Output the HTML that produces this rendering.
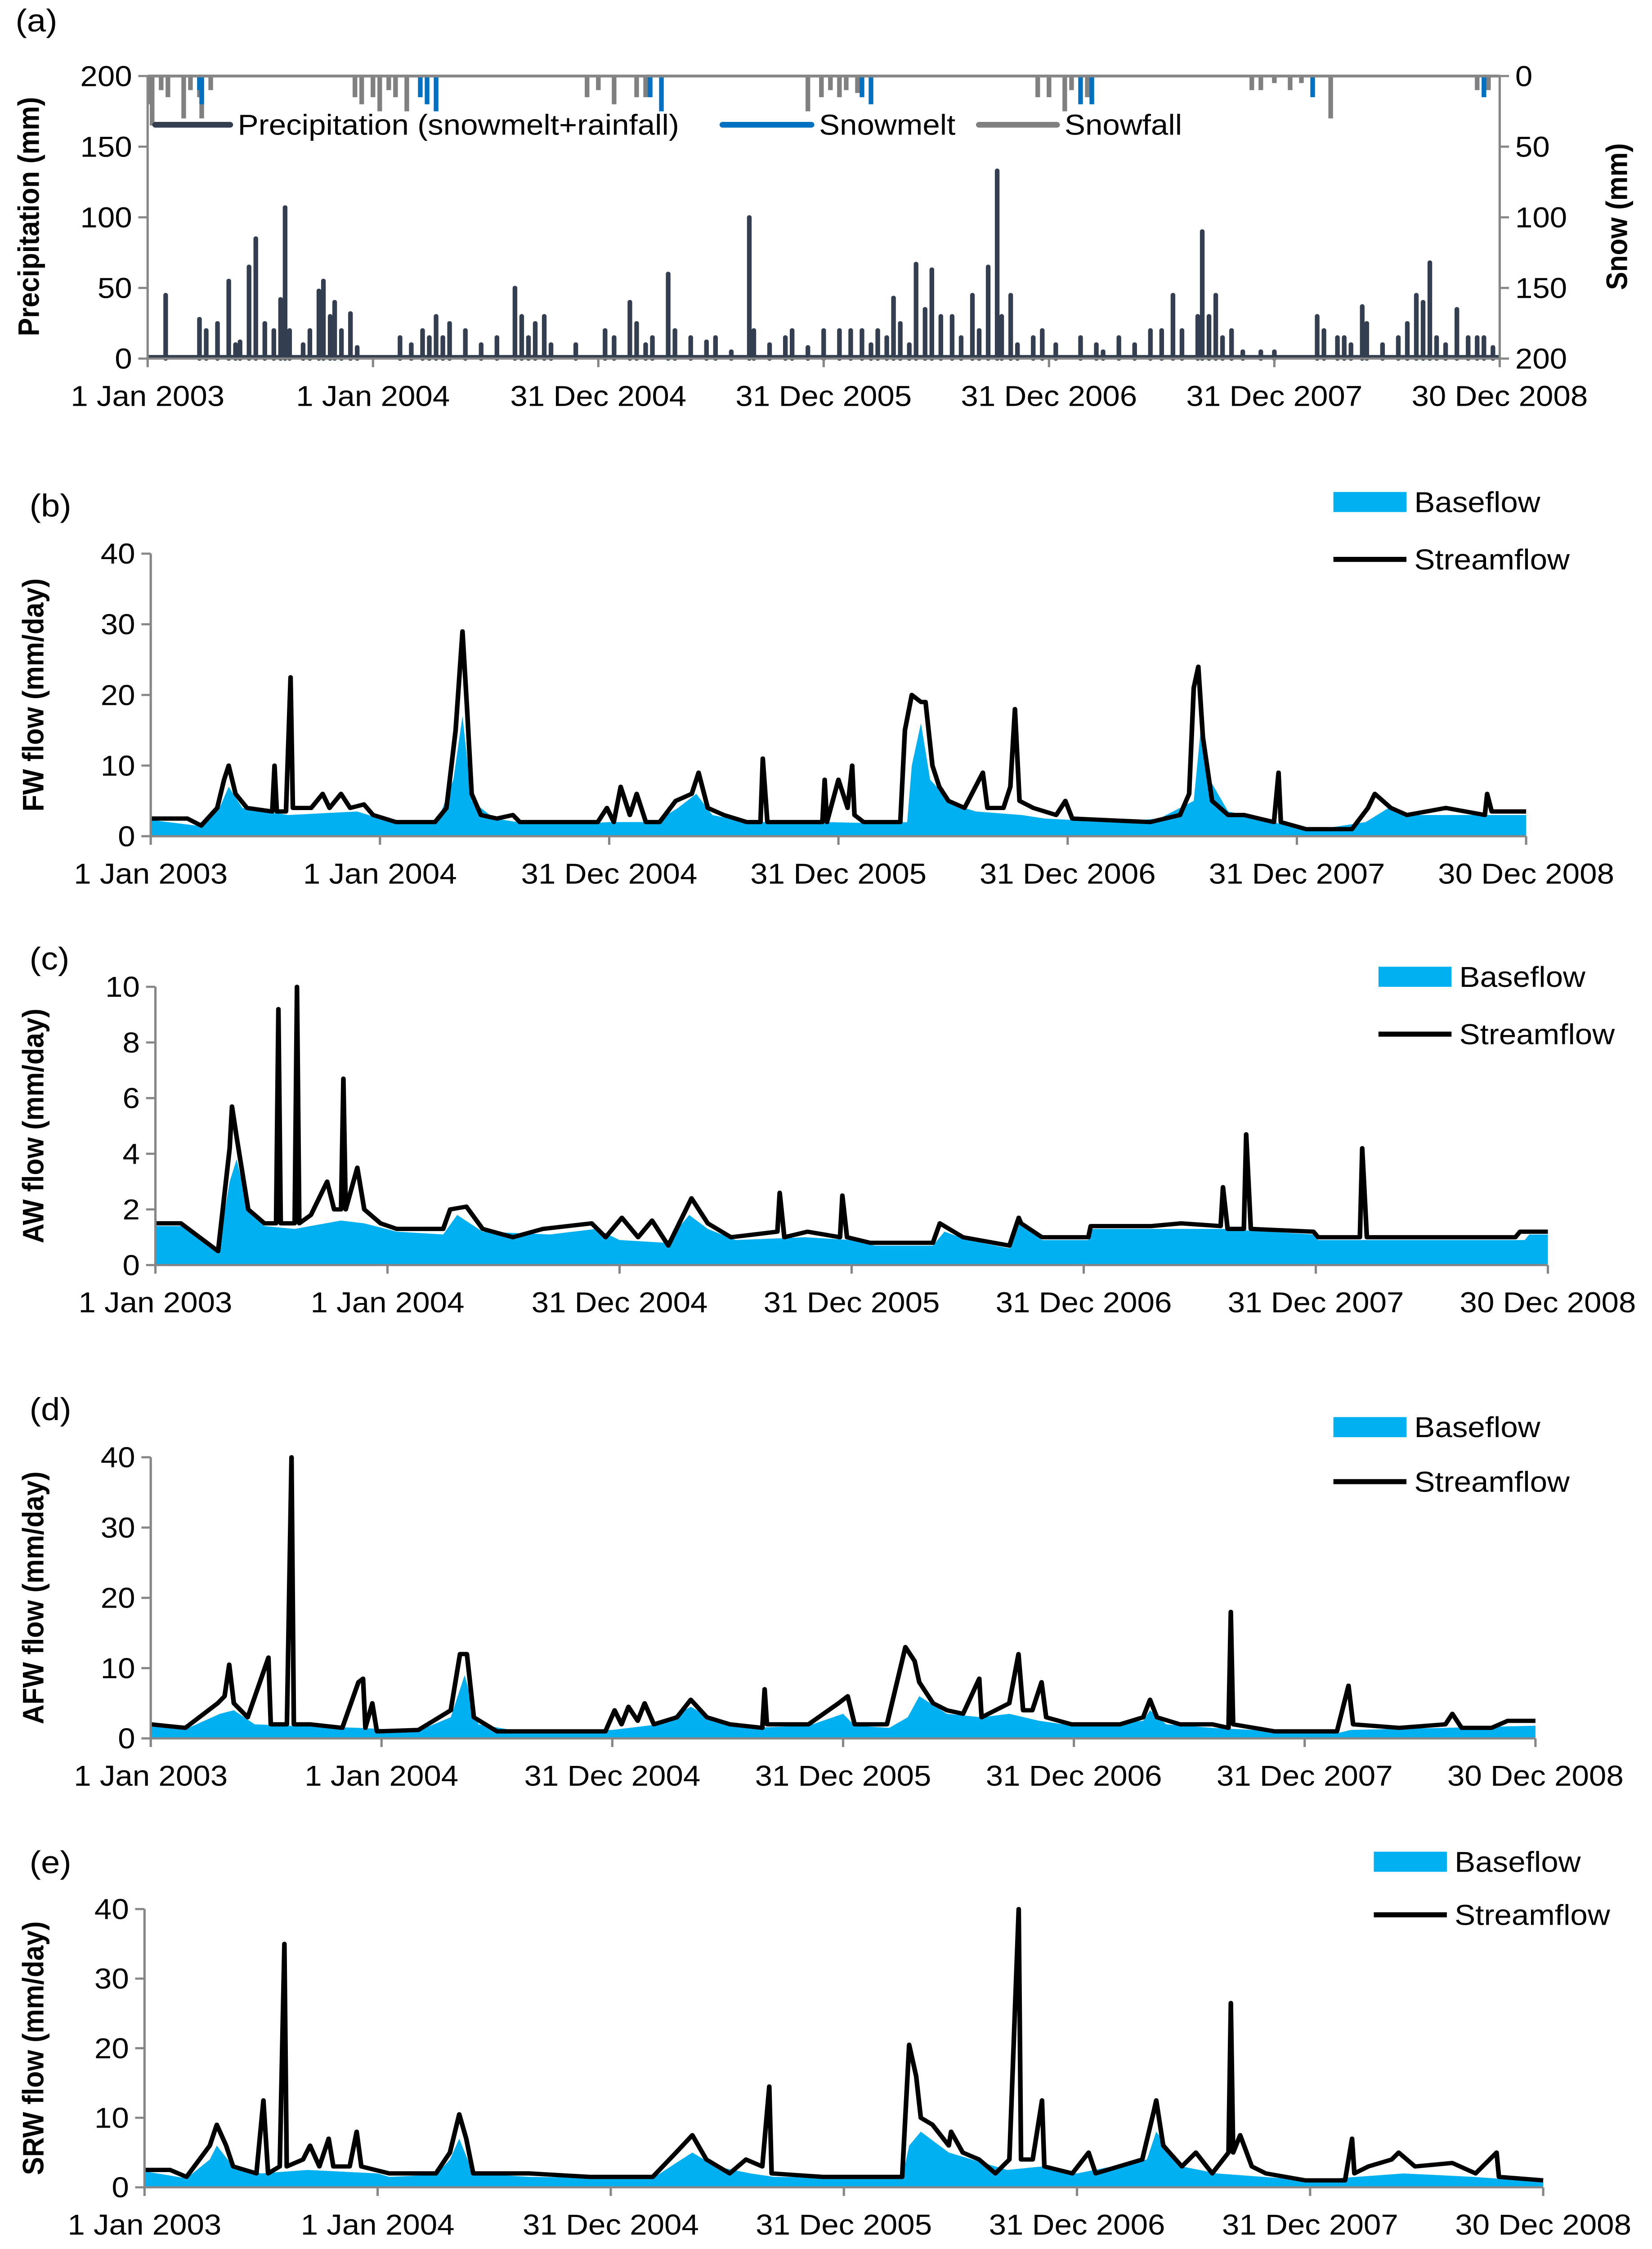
<!DOCTYPE html>
<html><head><meta charset="utf-8">
<style>
html,body{margin:0;padding:0;background:#fff;width:100%;height:100%;overflow:hidden;}
svg{display:block;position:fixed;left:0;top:0;width:100vw;height:100vh;}
text{font-family:"Liberation Sans",Arial,sans-serif;fill:#000;}
</style></head>
<body>
<svg id="fig" viewBox="0 0 1063 1568" preserveAspectRatio="none" xmlns="http://www.w3.org/2000/svg"></svg>
<script>
// ---------- Data (time in years since 1 Jan 2003) ----------
const dateLabels = ["1 Jan 2003","1 Jan 2004","31 Dec 2004","31 Dec 2005","31 Dec 2006","31 Dec 2007","30 Dec 2008"];

// Panel (a) precipitation
const precipT = [.08,.23,.26,.31,.36,.39,.41,.45,.48,.52,.56,.59,.61,.63,.69,.72,.76,.78,.81,.83,.86,.90,.93,1.12,1.17,1.22,1.25,1.28,1.31,1.34,1.41,1.48,1.55,1.63,1.66,1.69,1.72,1.76,1.79,1.90,2.03,2.07,2.14,2.17,2.21,2.24,2.31,2.34,2.41,2.48,2.52,2.59,2.67,2.69,2.76,2.83,2.86,2.93,3.00,3.07,3.12,3.17,3.21,3.24,3.28,3.31,3.34,3.38,3.41,3.45,3.48,3.52,3.57,3.61,3.66,3.69,3.73,3.77,3.79,3.83,3.86,3.93,3.97,4.03,4.14,4.21,4.24,4.31,4.38,4.45,4.50,4.55,4.59,4.66,4.68,4.71,4.74,4.77,4.81,4.86,4.94,5.00,5.19,5.22,5.28,5.31,5.34,5.39,5.41,5.48,5.55,5.59,5.63,5.66,5.69,5.72,5.76,5.81,5.86,5.90,5.93,5.97];
const precipMM = [45,28,20,25,55,10,12,65,85,25,20,42,107,20,10,20,48,55,30,40,20,32,8,15,10,20,15,30,15,25,20,10,15,50,30,15,25,30,10,10,20,15,40,25,10,15,60,20,15,12,15,5,100,20,10,15,20,8,20,20,20,20,10,20,15,43,25,10,67,35,63,30,30,15,45,20,65,133,30,45,10,15,20,10,15,10,5,15,10,20,20,45,20,30,90,30,45,15,20,5,5,5,30,20,15,15,10,37,25,10,15,25,45,40,68,15,10,35,15,15,15,8];
const snowfallT = [.01,.02,.06,.09,.16,.19,.23,.24,.28,.92,.95,1.0,1.03,1.07,1.10,1.15,1.95,2.0,2.07,2.17,2.21,2.93,2.99,3.03,3.07,3.10,3.15,3.95,4.0,4.07,4.10,4.17,4.90,4.94,5.0,5.07,5.12,5.25,5.90,5.95];
const snowfallMM = [20,35,10,15,30,10,15,30,10,15,20,15,25,10,15,25,15,10,20,15,15,25,15,10,15,10,12,15,15,25,10,15,10,10,5,10,5,30,10,10];
const snowmeltT = [.23,.24,1.21,1.24,1.28,2.23,2.28,3.17,3.21,4.14,4.19,5.17,5.93];
const snowmeltMM = [10,20,15,20,25,15,25,15,20,20,20,15,15];
const precipTicks = [0,50,100,150,200];
const snowTicks = [0,50,100,150,200];

// Panel (b) FW
const fwT = [0,.16,.22,.29,.32,.34,.37,.42,.53,.54,.55,.59,.61,.62,.70,.75,.78,.83,.87,.93,.97,1.07,1.24,1.29,1.33,1.36,1.38,1.40,1.44,1.51,1.58,1.61,1.78,1.95,1.99,2.02,2.05,2.09,2.12,2.16,2.22,2.29,2.36,2.39,2.43,2.50,2.60,2.66,2.67,2.69,2.80,2.93,2.94,2.95,3.00,3.04,3.06,3.07,3.11,3.27,3.29,3.32,3.36,3.38,3.41,3.44,3.48,3.55,3.63,3.65,3.72,3.75,3.77,3.79,3.85,3.95,3.99,4.02,4.36,4.49,4.53,4.55,4.57,4.59,4.63,4.70,4.77,4.90,4.92,4.93,5.04,5.24,5.31,5.34,5.41,5.48,5.65,5.82,5.83,5.85,6];
const fwQ = [2.5,2.5,1.5,4,8,10,6,4,3.5,10,3.5,3.5,22.5,4,4,6,4,6,4,4.5,3,2,2,4,15,29,18,6,3,2.5,3,2,2,2,4,2,7,3,6,2,2,5,6,9,4,3,2,2,11,2,2,2,8,2,8,4,10,3,2,2,15,20,19,19,10,7,5,4,9,4,4,7,18,5,4,3,5,2.5,2,3,6,21,24,14,5,3,3,2,9,2,1,1,4,6,4,3,4,3,6,3.5,3.5];
const fwBT = [0,.2,.3,.34,.4,.6,.9,1.0,1.1,1.25,1.32,1.36,1.40,1.5,1.6,1.9,2.0,2.2,2.3,2.38,2.45,2.6,2.95,3.2,3.3,3.32,3.36,3.4,3.5,3.6,3.8,3.9,4.2,4.4,4.55,4.58,4.62,4.7,4.85,4.95,5.1,5.3,5.4,5.5,5.7,5.8,6];
const fwB = [2.3,1.5,4,7,4,3,3.5,2.5,1.8,2,8,17,5,2.5,2,1.8,2,2,4,6,3,2,2,1.8,2,10,16,8,4.5,3.5,3,2.5,2,2.5,5,15,8,3.5,2.5,1.5,1,2,4,3,3,3,3];
const fwTicks = [0,10,20,30,40];

// Panel (c) AW
const awT = [0,.11,.27,.32,.33,.35,.40,.47,.52,.53,.54,.60,.61,.62,.67,.74,.77,.80,.81,.82,.87,.90,.97,1.04,1.24,1.27,1.34,1.41,1.54,1.67,1.88,1.94,2.01,2.08,2.14,2.21,2.31,2.38,2.48,2.68,2.69,2.71,2.81,2.95,2.96,2.98,3.08,3.35,3.38,3.48,3.68,3.72,3.73,3.82,4.02,4.03,4.29,4.42,4.59,4.60,4.62,4.69,4.70,4.72,4.99,5.01,5.19,5.20,5.22,5.86,5.88,6];
const awQ = [1.5,1.5,0.5,4.2,5.7,4.6,2,1.5,1.5,9.2,1.5,1.5,10,1.5,1.8,3,2,2,6.7,2,3.5,2,1.5,1.3,1.3,2,2.1,1.3,1,1.3,1.5,1,1.7,1,1.6,0.7,2.4,1.5,1,1.2,2.6,1,1.2,1,2.5,1,0.8,0.8,1.5,1,0.7,1.7,1.5,1,1,1.4,1.4,1.5,1.4,2.8,1.3,1.3,4.7,1.3,1.2,1,1,4.2,1,1,1.2,1.2];
const awBT = [0,.11,.27,.32,.35,.40,.47,.6,.8,.9,1.04,1.24,1.3,1.41,1.7,1.9,2.0,2.2,2.3,2.38,2.5,2.8,3.0,3.1,3.35,3.4,3.5,3.68,3.72,3.82,4.02,4.03,4.6,4.99,5.01,5.9,5.92,6];
const awB = [1.4,1.4,0.5,3,3.8,2,1.4,1.3,1.6,1.5,1.2,1.1,1.8,1.2,1.1,1.3,0.9,0.8,1.8,1.3,0.9,1.0,0.9,0.7,0.7,1.2,0.9,0.6,1.5,0.9,0.9,1.3,1.3,1.1,0.9,0.9,1.1,1.1];
const awTicks = [0,2,4,6,8,10];

// Panel (d) AFW
const afwT = [0,.15,.29,.32,.34,.36,.42,.51,.52,.59,.61,.62,.69,.83,.90,.92,.93,.96,.98,1.16,1.30,1.34,1.37,1.40,1.50,1.97,2.01,2.04,2.07,2.11,2.14,2.18,2.28,2.34,2.41,2.51,2.65,2.66,2.67,2.85,2.98,3.02,3.05,3.19,3.27,3.31,3.33,3.39,3.45,3.52,3.59,3.60,3.66,3.72,3.76,3.78,3.82,3.86,3.88,3.99,4.20,4.30,4.33,4.36,4.46,4.60,4.67,4.68,4.69,4.87,5.14,5.19,5.21,5.41,5.61,5.64,5.68,5.81,5.88,6];
const afwQ = [2,1.5,5,6,10.5,5,3,11.5,2,2,40,2,2,1.5,8,8.5,1.5,5,1,1.2,4,12,12,3,1,1,4,2,4.5,2.5,5,2,3,5.5,3,2,1.5,7,2,2,5,6,2,2,13,11,8,5,4,3.5,8.5,3,4,5,12,4,4,8,3,2,2,3,5.5,3,2,2,1.5,18,2,1,1,7.5,2,1.5,2,3.5,1.5,1.5,2.5,2.5];
const afwBT = [0,.15,.3,.36,.45,.6,.9,1.16,1.3,1.36,1.42,1.6,2.0,2.2,2.34,2.45,2.6,2.85,3.0,3.05,3.2,3.28,3.33,3.45,3.6,3.72,3.85,4.0,4.3,4.33,4.4,4.6,4.9,5.15,5.2,5.6,6];
const afwB = [1.8,1.3,3.5,4,2,1.8,1.5,1.1,3,9,2,1,1.2,2,4.5,2.5,1.5,1.8,3.5,1.8,1.5,3,6,3.5,3,3.5,2.5,1.8,2.5,4,2,1.5,1,0.8,1.2,1.5,1.8];
const afwTicks = [0,10,20,30,40];

// Panel (e) SRW
const srwT = [0,.11,.18,.28,.31,.35,.38,.48,.51,.53,.58,.60,.61,.68,.71,.75,.79,.81,.88,.91,.93,1.05,1.25,1.31,1.35,1.38,1.41,1.65,1.91,2.18,2.28,2.35,2.41,2.51,2.58,2.65,2.68,2.69,2.91,3.25,3.28,3.31,3.33,3.38,3.45,3.46,3.51,3.58,3.65,3.71,3.75,3.76,3.81,3.85,3.86,3.98,4.05,4.08,4.18,4.28,4.33,4.34,4.37,4.45,4.51,4.58,4.65,4.66,4.67,4.70,4.75,4.81,4.98,5.15,5.18,5.19,5.25,5.35,5.38,5.45,5.61,5.71,5.80,5.81,6];
const srwQ = [2.5,2.5,1.5,6,9,6,3,2,12.5,2,3,35,3,4,6,3,7,3,3,8,3,2,2,5,10.5,7,2,2,1.5,1.5,5,7.5,4,2,4,3,14.5,2,1.5,1.5,20.5,16,10,9,6,8,5,4,2,4,40,4,4,12.5,3,2,5,2,3,4,11,12.5,6,3,5,2,5,26.5,5,7.5,3,2,1,1,7,2,3,4,5,3,3.5,2,5,1.5,1];
const srwBT = [0,.18,.28,.31,.38,.5,.7,1.0,1.05,1.25,1.31,1.35,1.41,1.65,2.18,2.28,2.35,2.45,2.6,2.7,3.25,3.28,3.33,3.45,3.6,3.7,3.85,4.0,4.3,4.34,4.45,4.6,4.8,5.0,5.2,5.4,5.7,6];
const srwB = [2.3,1.3,4,6,3,2,2.5,2,1.5,1.8,4,7,2,1.5,1.3,3.5,5,3,2,1.5,1.3,6,8,5,3.5,2.5,3,2,4,8,3,2,1.5,1,1.5,2,1.5,0.8];
const srwTicks = [0,10,20,30,40];

// ---------- Drawing ----------
const NS = "http://www.w3.org/2000/svg";
const svg = document.getElementById('fig');
function mk(tag, attrs, parent){
  const e = document.createElementNS(NS, tag);
  for (const k in attrs) e.setAttribute(k, attrs[k]);
  (parent||svg).appendChild(e);
  return e;
}
function txt(s, attrs, parent){ const e = mk('text', attrs, parent); e.textContent = s; return e; }

function axes(g, x0, x1, yTop, yBot, ticks, vmax){
  const ys = v => yBot - v/vmax*(yBot-yTop);
  const ax = mk('path',{d:`M${x0},${yTop} V${yBot} H${x1}`,stroke:'#868686','stroke-width':1.5,fill:'none'},g);
  
  
  ticks.forEach(v=>{
    mk('line',{x1:x0-6,x2:x0,y1:ys(v),y2:ys(v),stroke:'#868686','stroke-width':1.5},g);
    const t = txt(String(v),{x:x0-10,y:ys(v)+7,'font-size':20,'text-anchor':'end'},g);
    
    
  });
  dateLabels.forEach((s,i)=>{
    const x = x0 + i/6*(x1-x0);
    mk('line',{x1:x,x2:x,y1:yBot,y2:yBot+6,stroke:'#868686','stroke-width':1.5},g);
    const t = txt(s,{x:x,y:yBot+33,'font-size':20,'text-anchor':'middle'},g);
    
    
  });
  return ys;
}

function flowPanel(name, label, labelY, x0, x1, yTop, yBot, ticks, vmax, T, Q, BT, B, title, legX, legY1, legY2){
  const g = mk('g',{});
  
  
  const xs = t => x0 + t/6*(x1-x0);
  const ys = v => yBot - v/vmax*(yBot-yTop);
  let d = `M${xs(BT[0])},${yBot}`;
  BT.forEach((t,i)=>{ d += ` L${xs(t)},${ys(B[i])}`; });
  d += ` L${xs(BT[BT.length-1])},${yBot} Z`;
  const area = mk('path',{d:d,fill:'#00B0F0',stroke:'none'},g);
  
  
  let ld = '';
  T.forEach((t,i)=>{ ld += (i?' L':'M') + xs(t) + ',' + ys(Q[i]); });
  const line = mk('path',{d:ld,fill:'none',stroke:'#000','stroke-width':3,'stroke-linejoin':'round'},g);
  
  
  axes(g, x0, x1, yTop, yBot, ticks, vmax);
  const pl = txt(label,{x:19,y:labelY,'font-size':22,'font-family':'Liberation Serif'},g);
  
  
  const cy = (yTop+yBot)/2;
  const yt = txt(title,{x:0,y:0,'font-size':19,'font-weight':'bold','text-anchor':'middle',transform:`translate(28,${cy}) rotate(-90)`},g);
  
  
  const sw = mk('rect',{x:legX,y:legY1-7,width:47,height:14,fill:'#00B0F0'},g);
  
  
  const t1 = txt('Baseflow',{x:legX+52,y:legY1+7,'font-size':20},g);
  
  
  const sl = mk('line',{x1:legX,x2:legX+47,y1:legY2,y2:legY2,stroke:'#000','stroke-width':3.5},g);
  
  
  const t2 = txt('Streamflow',{x:legX+52,y:legY2+7,'font-size':20},g);
  
  
}

// Panel (a)
(function(){
  const g = mk('g',{});
  
  
  const x0=95, x1=965, yTop=53, yBot=250;
  const xs = t => x0 + t/6*(x1-x0);
  const ys = v => yBot - v/200*(yBot-yTop);
  const yr = v => yTop + v/200*(yBot-yTop);
  snowfallT.forEach((t,i)=>{
    const r = mk('line',{x1:xs(t),x2:xs(t),y1:yTop,y2:yr(snowfallMM[i]),stroke:'#808080','stroke-width':3},g);
    
    
  });
  snowmeltT.forEach((t,i)=>{
    const r = mk('line',{x1:xs(t),x2:xs(t),y1:yTop,y2:yr(snowmeltMM[i]),stroke:'#0070C0','stroke-width':3},g);
    
    
  });
  precipT.forEach((t,i)=>{
    const r = mk('line',{x1:xs(t),x2:xs(t),y1:yBot,y2:ys(precipMM[i]),stroke:'#333F50','stroke-width':3,'stroke-linecap':'round'},g);
    
    
  });
  const base = mk('line',{x1:x0,x2:x1,y1:yBot-1,y2:yBot-1,stroke:'#333F50','stroke-width':3},g);
  
  
  axes(g, x0, x1, yTop, yBot, precipTicks, 200);
  mk('line',{x1:x0,x2:x1,y1:yTop,y2:yTop,stroke:'#868686','stroke-width':2},g);
  mk('line',{x1:x1,x2:x1,y1:yTop,y2:yBot,stroke:'#868686','stroke-width':1.5},g);
  snowTicks.forEach(v=>{
    mk('line',{x1:x1,x2:x1+6,y1:yr(v),y2:yr(v),stroke:'#868686','stroke-width':1.5},g);
    const t = txt(String(v),{x:x1+10,y:yr(v)+7,'font-size':20},g);
    
    
  });
  const pl = txt('(a)',{x:10,y:22,'font-size':22,'font-family':'Liberation Serif'},g);
  
  
  const yt = txt('Precipitation (mm)',{x:0,y:0,'font-size':19,'font-weight':'bold','text-anchor':'middle',transform:'translate(25,151) rotate(-90)'},g);
  
  
  const yt2 = txt('Snow (mm)',{x:0,y:0,'font-size':19,'font-weight':'bold','text-anchor':'middle',transform:'translate(1047,151) rotate(-90)'},g);
  
  
  const legs = [[100,148,'#333F50',153,'Precipitation (snowmelt+rainfall)'],[465,522,'#0070C0',527,'Snowmelt'],[630,680,'#808080',685,'Snowfall']];
  legs.forEach(l=>{
    const s = mk('line',{x1:l[0],x2:l[1],y1:87,y2:87,stroke:l[2],'stroke-width':4,'stroke-linecap':'round'},g);
    
    
    const t = txt(l[4],{x:l[3],y:94,'font-size':20},g);
    
    
  });
})();

flowPanel('panel-b-fw','(b)',360, 97,982,386,583, fwTicks,40, fwT,fwQ,fwBT,fwB,'FW flow (mm/day)',858,350,390);
flowPanel('panel-c-aw','(c)',676, 100,996,688,882, awTicks,10, awT,awQ,awBT,awB,'AW flow (mm/day)',887,681,721);
flowPanel('panel-d-afw','(d)',990, 97,988,1016,1212, afwTicks,40, afwT,afwQ,afwBT,afwB,'AFW flow (mm/day)',858,995,1033);
flowPanel('panel-e-srw','(e)',1306, 93,993,1331,1525, srwTicks,40, srwT,srwQ,srwBT,srwB,'SRW flow (mm/day)',884,1298,1335);
</script>
</body></html>
